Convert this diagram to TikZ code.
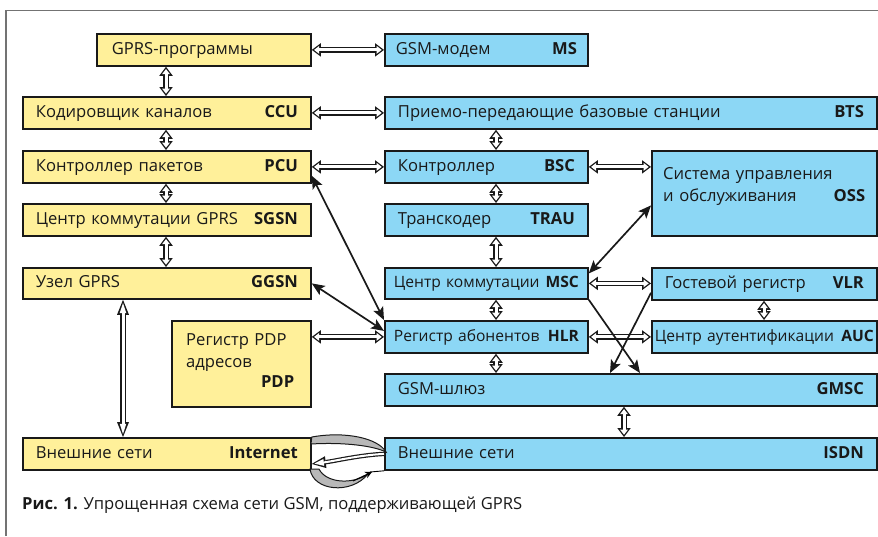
\documentclass[tikz,border=0pt]{standalone}
\usepackage{fontspec}
\setmainfont{Open Sans}
\usepackage{xcolor}
\usepackage{tikz}
\usetikzlibrary{arrows.meta}

\definecolor{gprsyellow}{RGB}{255,240,154}
\definecolor{gsmblue}{RGB}{140,215,245}
\newcommand{\boxtext}[2]{\mbox{#1}\nobreak\hskip 0.25em plus 1filll\textbf{#2}}

\begin{document}
\begin{tikzpicture}[x=1pt, y=-1pt,
  font=\fontsize{16.6}{22}\selectfont,
  box/.style={draw=black!90, line width=1.8pt, rectangle, anchor=north west,
    inner xsep=13pt, inner ysep=0pt, minimum height=32pt,
    text height=12pt, text depth=3pt, text=black!90},
  ybox/.style={box, fill=gprsyellow},
  bbox/.style={box, fill=gsmblue},
  tight/.style={font=\fontsize{15.6}{20}\selectfont},
  boxtxt/.style={anchor=north west, inner sep=0pt, text=black!90},
  dbl/.style={line width=5.8pt, draw=black!90,
    {Triangle[length=9pt,width=13.5pt,line width=0pt]}-{Triangle[length=9pt,width=13.5pt,line width=0pt]},
    postaction={draw=white, line width=3pt, shorten <=2.3pt, shorten >=2.3pt,
      {Triangle[length=5pt,width=7.8pt,line width=0pt]}-{Triangle[length=5pt,width=7.8pt,line width=0pt]}}},
  dbllong/.style={line width=5.8pt, draw=black!90,
    {Triangle[length=15pt,width=12pt,line width=0pt]}-{Triangle[length=15pt,width=12pt,line width=0pt]},
    postaction={draw=white, line width=3pt, shorten <=3.2pt, shorten >=3.2pt,
      {Triangle[length=10pt,width=6.6pt,line width=0pt]}-{Triangle[length=10pt,width=6.6pt,line width=0pt]}}},
  dblone/.style={line width=4.4pt, draw=black!90,
    -{Triangle[length=14pt,width=12pt,line width=0pt]},
    postaction={draw=white, line width=2pt, shorten >=2.6pt,
      -{Triangle[length=9.5pt,width=7pt,line width=0pt]}}},
  link/.style={line width=1.7pt, draw=black!90,
    {Stealth[length=13pt,width=11pt,inset=3pt,line width=0pt]}-{Stealth[length=13pt,width=11pt,inset=3pt,line width=0pt]}},
  linkone/.style={line width=1.7pt, draw=black!90,
    -{Stealth[length=13pt,width=11pt,inset=3pt,line width=0pt]}},
  loopband/.style={fill=black!28, draw=black!90, line width=1pt}
]
  \useasboundingbox (0,0) rectangle (878,536);
  \draw[black!55, line width=1.6pt] (6,536) -- (6,10.5) -- (878,10.5);

  % GPRS column
  \node[ybox, inner xsep=15pt, text width=184pt] (gprs) at (96,33) {GPRS-программы};
  \node[ybox, text width=262pt] (ccu)  at (22,96)  {\boxtext{Кодировщик каналов}{CCU}};
  \node[ybox, text width=262pt] (pcu)  at (22,150) {\boxtext{Контроллер пакетов}{PCU}};
  \node[ybox, text width=262pt] (sgsn) at (22,203) {\boxtext{Центр коммутации GPRS}{SGSN}};
  \node[ybox, text width=262pt, minimum height=31pt] (ggsn) at (22,267) {\boxtext{Узел GPRS}{GGSN}};
  \node[ybox, minimum width=139pt, minimum height=86pt] (pdp) at (171,320) {};
  \node[boxtxt, text width=108pt] (pdp-txt) at ([xshift=15pt,yshift=-13pt]pdp.north west)
    {Регистр PDP\\адресов\\[-2pt]\boxtext{}{PDP}};
  \node[ybox, text width=262pt] (inet) at (22,437) {\boxtext{Внешние сети}{Internet}};

  % GSM column
  \node[bbox, inner xsep=11pt, text width=181pt] (ms) at (384,33) {\boxtext{GSM-модем}{MS}};
  \node[bbox, text width=466pt] (bts)  at (384,96)  {\boxtext{Приемо-передающие базовые станции}{BTS}};
  \node[bbox, text width=177pt] (bsc)  at (384,150) {\boxtext{Контроллер}{BSC}};
  \node[bbox, text width=177pt] (trau) at (384,203) {\boxtext{Транскодер}{TRAU}};
  \node[bbox, tight, inner xsep=9pt, text width=185pt, minimum height=31pt] (msc) at (384,267)
    {\boxtext{Центр коммутации}{MSC}};
  \node[bbox, tight, inner xsep=9pt, text width=185pt] (hlr) at (384,320) {\boxtext{Регистр абонентов}{HLR}};
  \node[bbox, text width=466pt] (gmsc) at (384,373) {\boxtext{GSM-шлюз}{GMSC}};
  \node[bbox, text width=466pt] (isdn) at (384,437) {\boxtext{Внешние сети}{ISDN}};
  \node[bbox, minimum width=225pt, minimum height=85pt] (oss) at (651,150) {};
  \node[boxtxt, text width=202pt] (oss-txt) at ([xshift=12pt,yshift=-17pt]oss.north west)
    {Система управления\\\boxtext{и обслуживания}{OSS}};
  \node[bbox, text width=199pt] (vlr) at (651,267) {\boxtext{Гостевой регистр}{VLR}};
  \node[bbox, tight, inner xsep=3pt, text width=219pt] (auc) at (651,320) {\boxtext{Центр аутентификации}{AUC}};

  % loop between the two outer networks
  \path[loopband] (310,469) .. controls (313,491) and (351,495) .. (368,474)
    .. controls (352,485) and (326,483) .. (319,469) -- cycle;
  \draw[line width=1pt, -{Stealth[length=7pt,width=7pt,line width=0pt]}] (353,481) -- (372,472);
  \draw[line width=0.9pt] (370,472) -- (isdn.south west);
  \path[loopband] (inet.north east) .. controls (345,431) and (378,438) .. (386,452)
    .. controls (374,446) and (345,442) .. (311,444) -- cycle;
  \draw[dblone] (isdn.west) .. controls (360,455) and (335,461) .. ([yshift=-10pt]inet.east);

  \coordinate (gx) at (166,0);
  \coordinate (ix) at (123,0);
  \coordinate (bx) at (496,0);
  \coordinate (sx) at (624,0);
  \coordinate (vx) at (764,0);

  \draw[dbl] (gprs) -- (ms);
  \draw[dbl] (ccu) -- (bts);
  \draw[dbl] (pcu) -- (bsc);
  \draw[dbl] (bsc.east) -- (bsc.east -| oss.west);
  \draw[dbl] (msc.east) -- (msc.east -| vlr.west);
  \draw[dbl] (hlr) -- (auc);
  \draw[dbl] (hlr.west -| pdp.east) -- (hlr.west);

  \draw[dbl] (gprs.south -| gx) -- (ccu.north -| gx);
  \draw[dbl] (ccu.south -| gx)  -- (pcu.north -| gx);
  \draw[dbl] (pcu.south -| gx)  -- (sgsn.north -| gx);
  \draw[dbl] (sgsn.south -| gx) -- (ggsn.north -| gx);
  \draw[dbllong] (ggsn.south -| ix) -- (inet.north -| ix);
  \draw[dbl] (bts.south -| bx)  -- (bsc.north -| bx);
  \draw[dbl] (bsc.south -| bx)  -- (trau.north -| bx);
  \draw[dbl] (trau.south -| bx) -- (msc.north -| bx);
  \draw[dbl] (msc.south -| bx)  -- (hlr.north -| bx);
  \draw[dbl] (hlr.south -| bx)  -- (gmsc.north -| bx);
  \draw[dbl] (gmsc.south -| sx) -- (isdn.north -| sx);
  \draw[dbl] (vlr.south -| vx)  -- (auc.north -| vx);

  \draw[link] ([yshift=8pt]pcu.south east) -- (hlr.north west);
  \draw[link] (ggsn.east) -- ([yshift=6pt]hlr.west);
  \draw[link] ([yshift=10pt]msc.east) -- ([yshift=-12pt]oss.west);
  \draw[linkone] (msc.south east) -- ([xshift=256pt]gmsc.north west);
  \draw[linkone] ([yshift=8pt]vlr.south west) -- ([xshift=226pt]gmsc.north west);

  \node[anchor=base west, inner sep=0pt, text=black!90, font=\fontsize{16.6}{22}\selectfont]
    (caption) at (22,509) {\textbf{Рис. 1.} Упрощенная схема сети GSM, поддерживающей GPRS};
\end{tikzpicture}
\end{document}
